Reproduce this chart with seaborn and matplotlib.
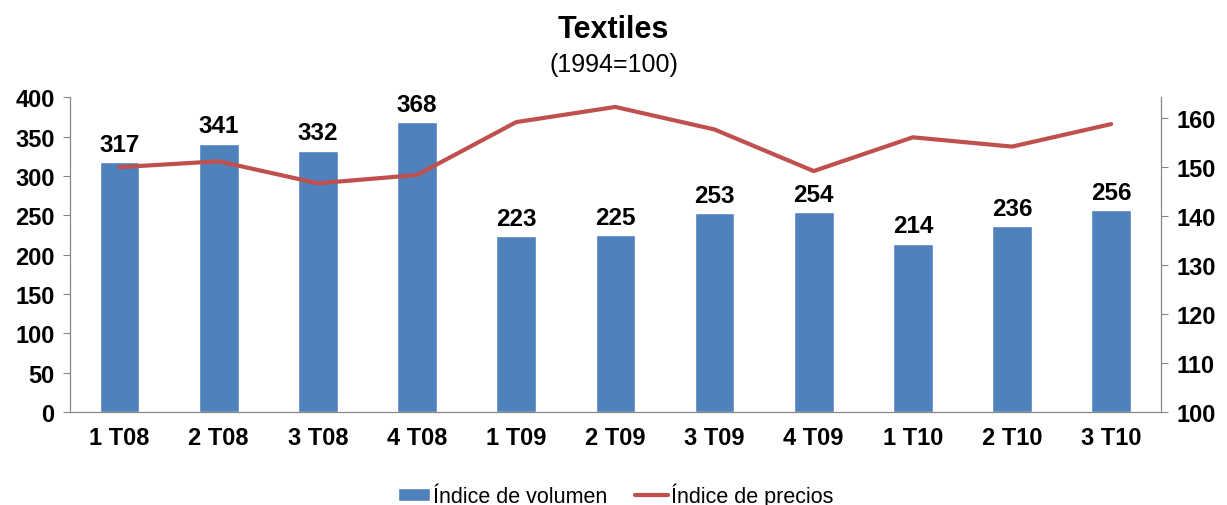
import pandas as pd
import seaborn as sns
import matplotlib.pyplot as plt

# Data
quarters = ["1 T08", "2 T08", "3 T08", "4 T08", "1 T09", "2 T09",
            "3 T09", "4 T09", "1 T10", "2 T10", "3 T10"]
volumen = [317, 341, 332, 368, 223, 225, 253, 254, 214, 236, 256]
precios = [150.0, 151.2, 146.7, 148.4, 159.2, 162.3, 157.7, 149.2, 156.1, 154.2, 158.8]

df = pd.DataFrame({"Trimestre": quarters, "Volumen": volumen, "Precios": precios})

sns.set_style("white")
plt.rcParams['font.family'] = ['Liberation Sans', 'DejaVu Sans']
plt.rcParams['text.color'] = 'black'

fig = plt.figure(figsize=(12.27, 5.06), dpi=100)
ax = fig.add_axes([0.057, 0.184, 0.889, 0.622])

sns.barplot(data=df, x="Trimestre", y="Volumen", color="#4F81BD", width=0.4,
            saturation=1, ax=ax, label="Índice de volumen")
for i, v in enumerate(volumen):
    ax.text(i, v + 8, str(v), ha='center', va='bottom', fontsize=17.5,
            fontweight='bold', color='black')

ax.set_ylim(0, 400)
ax.set_yticks(range(0, 401, 50))
ax.set_xlim(-0.5, len(quarters) - 0.5)
ax.set_xlabel("")
ax.set_ylabel("")

ax2 = ax.twinx()
sns.lineplot(data=df, x="Trimestre", y="Precios", color="#C0504D", linewidth=3,
             ax=ax2, label="Índice de precios", legend=False)
ax2.set_ylim(100, 164.3)
ax2.set_yticks(range(100, 161, 10))
ax2.set_ylabel("")

for a in (ax, ax2):
    for s in a.spines.values():
        s.set_color("#868686")
    a.spines['top'].set_visible(False)
    a.tick_params(axis='y', length=5, color="#868686", labelcolor='black',
                  labelsize=17, direction='out', pad=6)
    for lab in a.get_yticklabels():
        lab.set_fontweight('bold')
ax.tick_params(axis='x', length=0, labelsize=17, labelcolor='black', pad=10)
for lab in ax.get_xticklabels():
    lab.set_fontweight('bold')

fig.text(0.5, 0.925, "Textiles", ha='center', fontsize=22, fontweight='bold')
fig.text(0.5, 0.858, "(1994=100)", ha='center', fontsize=18)

h1, l1 = ax.get_legend_handles_labels()
h2, l2 = ax2.get_legend_handles_labels()
ax.legend(h1 + h2, l1 + l2, loc='lower center', bbox_to_anchor=(0.5, -0.33),
          ncol=2, frameon=False, fontsize=15.5, handlelength=1.5, handleheight=0.5,
          handletextpad=0.15, columnspacing=1.3, borderaxespad=0)

fig.savefig("out.png", dpi=100)
